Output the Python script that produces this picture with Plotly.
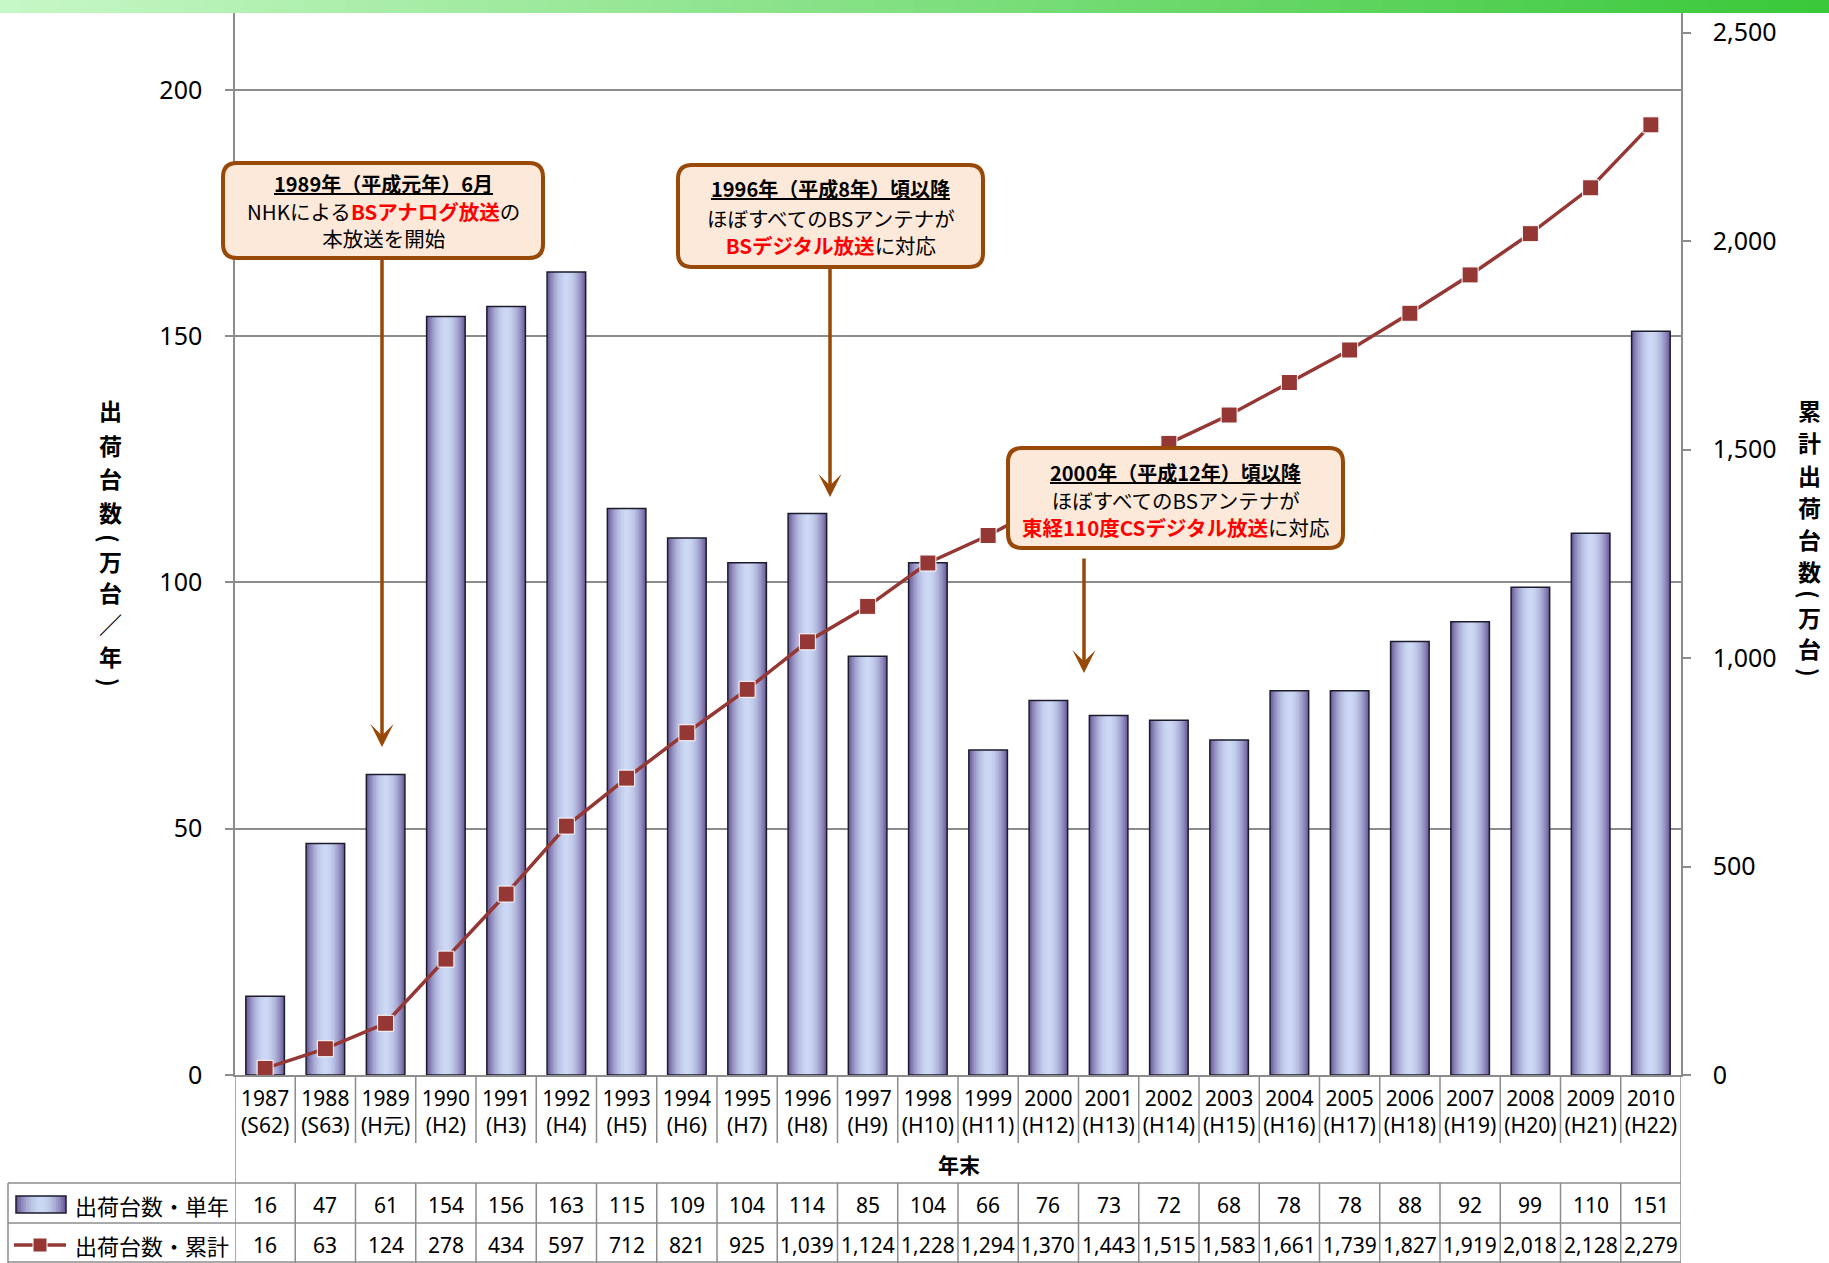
import plotly.graph_objects as go

# ---------------- data ----------------
categories = ["1987", "1988", "1989", "1990", "1991", "1992", "1993", "1994", "1995", "1996",
              "1997", "1998", "1999", "2000", "2001", "2002", "2003", "2004", "2005", "2006",
              "2007", "2008", "2009", "2010"]
eras = ["S62", "S63", "H元", "H2", "H3", "H4", "H5", "H6", "H7", "H8", "H9", "H10", "H11",
        "H12", "H13", "H14", "H15", "H16", "H17", "H18", "H19", "H20", "H21", "H22"]
single_year = [16, 47, 61, 154, 156, 163, 115, 109, 104, 114, 85, 104, 66, 76, 73, 72, 68,
               78, 78, 88, 92, 99, 110, 151]
cumulative = [16, 63, 124, 278, 434, 597, 712, 821, 925, 1039, 1124, 1228, 1294, 1370, 1443,
              1515, 1583, 1661, 1739, 1827, 1919, 2018, 2128, 2279]
left_ticks = [0, 50, 100, 150, 200]
right_ticks = [0, 500, 1000, 1500, 2000, 2500]
series_names = ["出荷台数・単年", "出荷台数・累計"]
left_title = "出荷台数（万台／年）"
right_title = "累計出荷台数（万台）"
x_title = "年末"

tick_labels = [f"{c}<br>({e})" for c, e in zip(categories, eras)]

# ---------------- geometry ----------------
W, H = 1829, 1263
ML, MR, MT, MB = 235, 148, 12, 188
PW, PH = W - ML - MR, H - MT - MB
Y0PX = H - MB  # pixel y of the zero line
LEFT_TOP = (Y0PX - MT) / (985.2 / 200)
RIGHT_TOP = (Y0PX - MT) / (1042.3 / 2500)


def px(x):
    return (x - ML) / PW


def py(y):
    return (Y0PX - y) / PH


JP = "Noto Sans CJK JP"
NUM = "Noto Sans, Noto Sans CJK JP"
GRAY = "#8c8c8c"
BROWN = "#984807"
LINE_RED = "#953735"

fig = go.Figure()

# gradient bars (cylinder look) built from layered overlay bars
edge = (108, 92, 156)
center = (204, 217, 244)


def shade(u):
    s = 1 - u * u
    return "rgb(%d,%d,%d)" % tuple(round(edge[i] + (center[i] - edge[i]) * s) for i in range(3))


N = 14
BW = 0.64
for k in range(N):
    u = 1 - k / N
    fig.add_trace(go.Bar(x=categories, y=single_year, width=BW * u,
                         marker=dict(color=shade(u), line=dict(width=0)),
                         showlegend=False, hoverinfo="skip"))
fig.add_trace(go.Bar(x=categories, y=single_year, width=BW, name=series_names[0],
                     marker=dict(color="rgba(0,0,0,0)", line=dict(color="#1c1c2c", width=1.5)),
                     showlegend=False))
fig.add_trace(go.Scatter(x=categories, y=cumulative, yaxis="y2", mode="lines+markers",
                         name=series_names[1], showlegend=False,
                         line=dict(color=LINE_RED, width=3.5),
                         marker=dict(symbol="square", size=16, color=LINE_RED,
                                     line=dict(color="white", width=1))))

shapes = []
annotations = []

# top green gradient strip
NS = 90
c_left = (198, 247, 198)
c_right = (58, 200, 58)
for i in range(NS):
    t = i / (NS - 1)
    col = tuple(round(c_left[j] + (c_right[j] - c_left[j]) * t) for j in range(3))
    x0 = W * i / NS
    x1 = W * (i + 1) / NS + 1
    shapes.append(dict(type="rect", xref="paper", yref="paper", x0=px(x0), x1=px(x1),
                       y0=py(13), y1=py(0), fillcolor="rgb(%d,%d,%d)" % col, line=dict(width=0),
                       layer="above"))

# table / label grid lines
ln = dict(color=GRAY, width=1.5)
n = len(categories)
for i in range(1, n):
    xb = i - 0.5
    shapes.append(dict(type="line", xref="x", yref="paper", x0=xb, x1=xb,
                       y0=py(1075), y1=py(1143), line=ln))
    shapes.append(dict(type="line", xref="x", yref="paper", x0=xb, x1=xb,
                       y0=py(1183), y1=py(1263), line=ln))
for xb in (-0.5, n - 0.5):
    shapes.append(dict(type="line", xref="x", yref="paper", x0=xb, x1=xb,
                       y0=py(1075), y1=py(1263), line=ln))
shapes.append(dict(type="line", xref="paper", yref="paper", x0=px(8), x1=px(8),
                   y0=py(1183), y1=py(1263), line=ln))
for yy in (1183, 1223, 1262):
    shapes.append(dict(type="line", xref="paper", yref="paper", x0=px(8), x1=px(1681),
                       y0=py(yy), y1=py(yy), line=ln))

# table values (x given as category index)
for i, (v1, v2) in enumerate(zip(single_year, cumulative)):
    annotations.append(dict(xref="x", yref="paper", x=i, y=py(1205), text=f"{v1:,}",
                            showarrow=False, font=dict(family=NUM, size=21, color="black"),
                            xanchor="center", yanchor="middle"))
    annotations.append(dict(xref="x", yref="paper", x=i, y=py(1245), text=f"{v2:,}",
                            showarrow=False, font=dict(family=NUM, size=21, color="black"),
                            xanchor="center", yanchor="middle"))

# legend cells
lx0, lx1, ly0, ly1 = 16, 66, 1196, 1213
NL = 10
for k in range(NL):
    u = 1 - k / NL
    cx = (lx0 + lx1) / 2
    hw = (lx1 - lx0) / 2 * u
    shapes.append(dict(type="rect", xref="paper", yref="paper", x0=px(cx - hw), x1=px(cx + hw),
                       y0=py(ly1), y1=py(ly0), fillcolor=shade(u), line=dict(width=0)))
shapes.append(dict(type="rect", xref="paper", yref="paper", x0=px(lx0), x1=px(lx1),
                   y0=py(ly1), y1=py(ly0), line=dict(color="#1c1c2c", width=1.5)))
shapes.append(dict(type="line", xref="paper", yref="paper", x0=px(14), x1=px(66),
                   y0=py(1245), y1=py(1245), line=dict(color=LINE_RED, width=3.5)))
shapes.append(dict(type="rect", xref="paper", yref="paper", x0=px(33), x1=px(47),
                   y0=py(1252), y1=py(1238), fillcolor=LINE_RED, line=dict(color="white", width=1)))
annotations.append(dict(xref="paper", yref="paper", x=px(73), y=py(1205), text=series_names[0],
                        showarrow=False, xanchor="left", yanchor="middle",
                        font=dict(family=JP, size=22, color="black")))
annotations.append(dict(xref="paper", yref="paper", x=px(73), y=py(1245), text=series_names[1],
                        showarrow=False, xanchor="left", yanchor="middle",
                        font=dict(family=JP, size=22, color="black")))

# x title
annotations.append(dict(xref="paper", yref="paper", x=px(959), y=py(1164), text=f"<b>{x_title}</b>",
                        showarrow=False, xanchor="center", yanchor="middle",
                        font=dict(family=JP, size=21, color="black")))


# vertical axis titles (stacked characters, brackets rotated)
def vertical_title(text, xc, y_start, offsets):
    for ch, off in zip(text, offsets):
        ang = 0
        t = ch
        if ch in "（(":
            t, ang = "(", 90
        elif ch in "）)":
            t, ang = ")", 90
        annotations.append(dict(xref="paper", yref="paper", x=px(xc), y=py(y_start + off),
                                text=f"<b>{t}</b>", showarrow=False, xanchor="center",
                                yanchor="middle", textangle=ang,
                                font=dict(family=JP, size=23, color="black")))


vertical_title(left_title, 110, 410, [0, 35, 68, 102, 128, 151, 182, 214, 246, 272])
vertical_title(right_title, 1810, 410, [0, 32, 65, 97, 129, 161, 185, 207, 238, 263])


# callout boxes
def rounded(x0, y0, x1, y1, r):
    X = lambda v: px(v)
    Y = lambda v: py(v)
    return (f"M {X(x0 + r)},{Y(y0)} L {X(x1 - r)},{Y(y0)} Q {X(x1)},{Y(y0)} {X(x1)},{Y(y0 + r)} "
            f"L {X(x1)},{Y(y1 - r)} Q {X(x1)},{Y(y1)} {X(x1 - r)},{Y(y1)} "
            f"L {X(x0 + r)},{Y(y1)} Q {X(x0)},{Y(y1)} {X(x0)},{Y(y1 - r)} "
            f"L {X(x0)},{Y(y0 + r)} Q {X(x0)},{Y(y0)} {X(x0 + r)},{Y(y0)} Z")


RED = "<span style='color:#ff0000'><b>{}</b></span>"
callouts = [
    dict(box=(223, 163, 543, 258), head_y=184, body_y=225,
         head="1989年（平成元年）6月",
         body="NHKによる" + RED.format("BSアナログ放送") + "の<br>本放送を開始",
         arrow=(382, 258, 747)),
    dict(box=(678, 165, 983, 267), head_y=189, body_y=231,
         head="1996年（平成8年）頃以降",
         body="ほぼすべてのBSアンテナが<br>" + RED.format("BSデジタル放送") + "に対応",
         arrow=(830, 267, 497)),
    dict(box=(1008, 448, 1343, 548), head_y=472, body_y=513.5,
         head="2000年（平成12年）頃以降",
         body="ほぼすべてのBSアンテナが<br>" + RED.format("東経110度CSデジタル放送") + "に対応",
         arrow=(1084, 557, 673)),
]
for co in callouts:
    x0, y0, x1, y1 = co["box"]
    shapes.append(dict(type="path", xref="paper", yref="paper", path=rounded(x0, y0, x1, y1, 14),
                       fillcolor="#fde9d9", line=dict(color=BROWN, width=4), layer="above"))
    cx = (x0 + x1) / 2
    annotations.append(dict(xref="paper", yref="paper", x=px(cx), y=py(co["head_y"]),
                            text=f"<b>{co['head']}</b>", showarrow=False, xanchor="center",
                            yanchor="middle",
                            font=dict(family=JP, size=20, color="black", lineposition="under")))
    annotations.append(dict(xref="paper", yref="paper", x=px(cx), y=py(co["body_y"]),
                            text=co["body"], showarrow=False, xanchor="center", yanchor="middle",
                            font=dict(family=JP, size=20.5, color="black")))
    axx, ys, yt = co["arrow"]
    annotations.append(dict(xref="paper", yref="paper", x=px(axx), y=py(yt), text="",
                            showarrow=True, arrowhead=3, arrowsize=1.1, arrowwidth=3.5,
                            arrowcolor=BROWN, ax=0, ay=ys - yt, standoff=0, startstandoff=0))

fig.update_layout(
    width=W, height=H,
    margin=dict(l=ML, r=MR, t=MT, b=MB),
    barmode="overlay",
    plot_bgcolor="white", paper_bgcolor="white",
    showlegend=False,
    xaxis=dict(type="category", range=[-0.5, n - 0.5], tickvals=categories, ticktext=tick_labels,
               showline=True, linecolor=GRAY, linewidth=1.5, showgrid=False, ticks="",
               tickfont=dict(family=NUM, size=21, color="black"), ticklabelstandoff=4,
               zeroline=False),
    yaxis=dict(range=[0, LEFT_TOP], tickvals=left_ticks, showgrid=True, gridcolor=GRAY,
               gridwidth=1.5, showline=True, linecolor=GRAY, linewidth=1.5, ticks="outside",
               ticklen=8, tickcolor=GRAY, tickwidth=1.5,
               tickfont=dict(family=NUM, size=25, color="black"), ticklabelstandoff=18,
               zeroline=False),
    yaxis2=dict(overlaying="y", side="right", range=[0, RIGHT_TOP], tickvals=right_ticks,
                tickformat=",", showgrid=False, showline=True, linecolor=GRAY, linewidth=1.5,
                ticks="outside", ticklen=8, tickcolor=GRAY, tickwidth=1.5,
                tickfont=dict(family=NUM, size=25, color="black"), ticklabelstandoff=17,
                zeroline=False),
    shapes=shapes,
    annotations=annotations,
)

fig.write_html("out.html", config={"displayModeBar": False},
               post_script="document.body.style.margin='0';document.body.style.overflow='hidden';")
